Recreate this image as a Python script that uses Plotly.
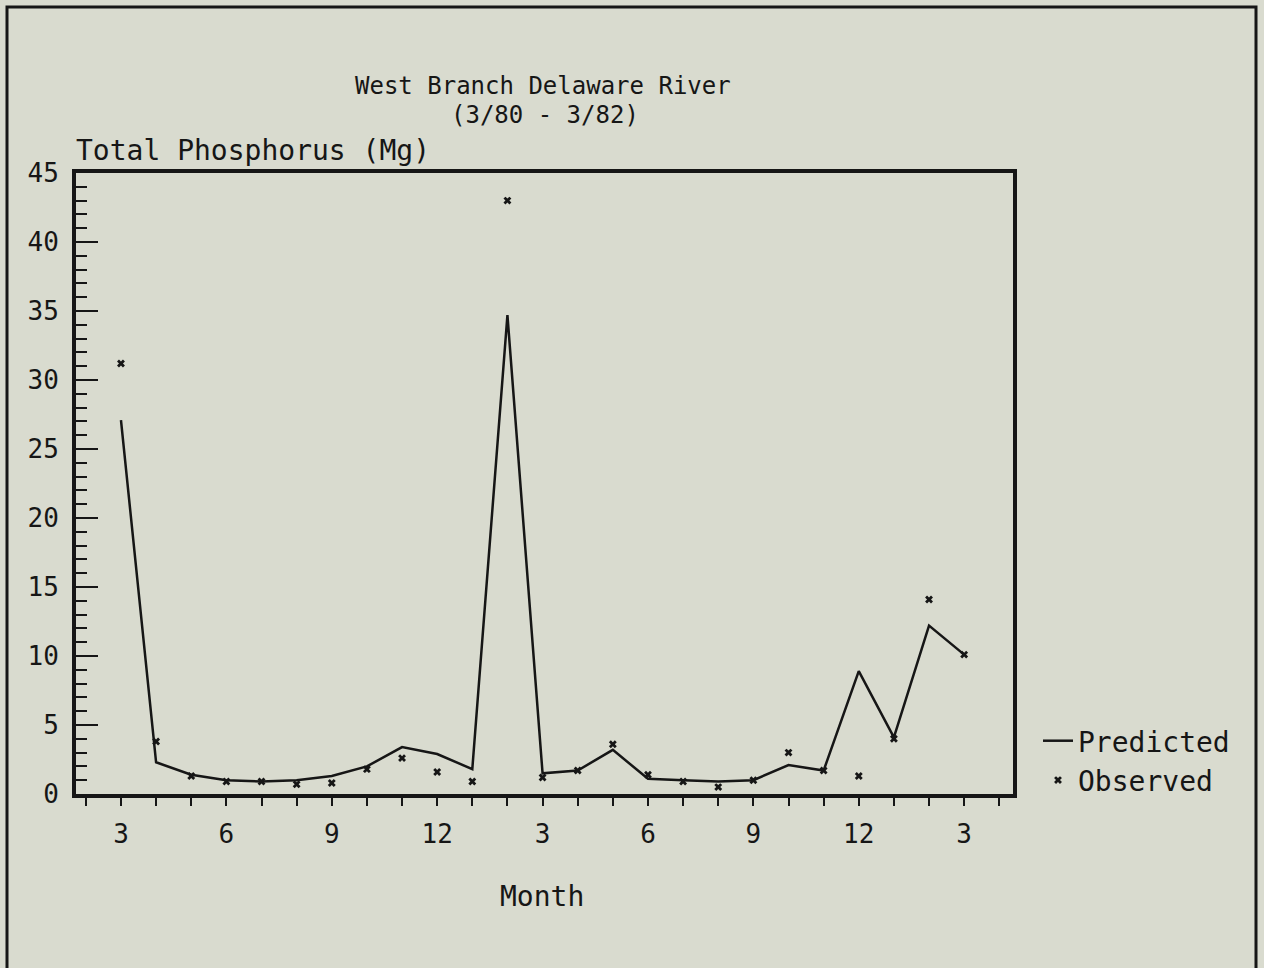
import plotly.graph_objects as go

# Months from 3/80 through 3/82, indexed 0..24
month_index = list(range(25))
tick_positions = [0, 3, 6, 9, 12, 15, 18, 21, 24]
tick_labels = ["3", "6", "9", "12", "3", "6", "9", "12", "3"]

# Total phosphorus load (Mg)
predicted = [27.1, 2.3, 1.4, 1.0, 0.9, 1.0, 1.3, 2.0, 3.4, 2.9, 1.8, 34.7, 1.5,
             1.7, 3.2, 1.1, 1.0, 0.9, 1.0, 2.1, 1.7, 8.9, 4.1, 12.2, 10.1]
observed = [31.2, 3.8, 1.3, 0.9, 0.9, 0.7, 0.8, 1.8, 2.6, 1.6, 0.9, 43.0, 1.2,
            1.7, 3.6, 1.4, 0.9, 0.5, 1.0, 3.0, 1.7, 1.3, 4.0, 14.1, 10.1]

INK = "#161616"
BG = "#d9dbcf"
FONT = "DejaVu Sans Mono"

fig = go.Figure()
fig.add_trace(go.Scatter(
    x=month_index, y=predicted, mode="lines", name="Predicted",
    line=dict(color=INK, width=2.5),
))
fig.add_trace(go.Scatter(
    x=month_index, y=observed, mode="markers", name="Observed",
    marker=dict(symbol="x", size=7, color=INK),
))

# plot-area geometry in pixels
L, R, T, B = 76, 1013, 173, 794
W, H = 1264, 968
pw, ph = R - L, B - T


def px(xp):
    return (xp - L) / pw


def py(yp):
    return (B - yp) / ph


fig.update_layout(
    width=W, height=H, autosize=False,
    margin=dict(l=L, r=W - R, t=T, b=H - B, pad=0),
    paper_bgcolor=BG, plot_bgcolor=BG,
    font=dict(family=FONT, color=INK, size=26),
    showlegend=True,
    legend=dict(
        x=px(1038), y=py(716), xanchor="left", yanchor="top",
        bgcolor="rgba(0,0,0,0)", font=dict(size=28, family=FONT, color=INK),
        borderwidth=0,
    ),
    xaxis=dict(
        range=[-1.28, 25.39], showgrid=False, zeroline=False,
        showline=True, mirror=True, linewidth=4, linecolor=INK,
        tickmode="array", tickvals=tick_positions, ticktext=tick_labels,
        ticks="outside", ticklen=8, tickwidth=1.5, tickcolor=INK,
        tickfont=dict(size=26, family=FONT, color=INK),
        ticklabelstandoff=6,
        minor=dict(tickmode="linear", tick0=0, dtick=1, ticks="outside",
                   ticklen=8, tickwidth=1.5, tickcolor=INK),
    ),
    yaxis=dict(
        range=[0, 45], showgrid=False, zeroline=False,
        showline=True, mirror=True, linewidth=4, linecolor=INK,
        tickmode="linear", tick0=0, dtick=5,
        ticks="inside", ticklen=22, tickwidth=2, tickcolor=INK,
        tickfont=dict(size=26, family=FONT, color=INK),
        ticklabelstandoff=8,
        minor=dict(tickmode="linear", tick0=0, dtick=1, ticks="inside",
                   ticklen=11, tickwidth=2, tickcolor=INK),
    ),
    annotations=[
        dict(text="West Branch Delaware River", x=px(543), y=py(86),
             xref="paper", yref="paper", xanchor="center", yanchor="middle",
             showarrow=False, font=dict(size=24, family=FONT, color=INK)),
        dict(text="(3/80 - 3/82)", x=px(545), y=py(115),
             xref="paper", yref="paper", xanchor="center", yanchor="middle",
             showarrow=False, font=dict(size=24, family=FONT, color=INK)),
        dict(text="Total Phosphorus (Mg)", x=px(74), y=py(150),
             xref="paper", yref="paper", xanchor="left", yanchor="middle",
             showarrow=False, font=dict(size=28, family=FONT, color=INK)),
        dict(text="Month", x=px(542), y=py(896),
             xref="paper", yref="paper", xanchor="center", yanchor="middle",
             showarrow=False, font=dict(size=28, family=FONT, color=INK)),
    ],
    shapes=[
        dict(type="rect", xref="paper", yref="paper",
             x0=px(7), x1=px(1256), y0=py(1000), y1=py(7),
             line=dict(color=INK, width=3), fillcolor="rgba(0,0,0,0)",
             layer="above"),
    ],
)

fig.write_html("out.html")
